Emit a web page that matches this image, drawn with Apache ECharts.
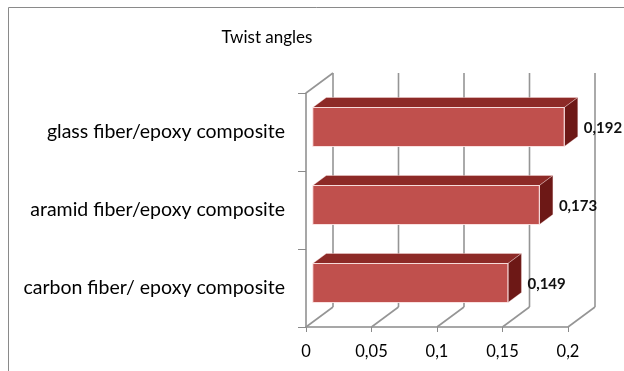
<!DOCTYPE html>
<html><head><meta charset="utf-8">
<script src="https://cdn.jsdelivr.net/npm/echarts@6/dist/echarts.min.js"></script>
<style>html,body{margin:0;padding:0;background:#fff}#c{width:624px;height:371px}</style>
</head><body><div id="c"></div>
<script>
var titleText = 'Twist angles';
var categories = ['carbon fiber/ epoxy composite', 'aramid fiber/epoxy composite', 'glass fiber/epoxy composite'];
var values = [0.149, 0.173, 0.192];
var tickValues = [0, 0.05, 0.1, 0.15, 0.2];
var tickLabels = ['0', '0,05', '0,1', '0,15', '0,2'];

var FONT = 'Lato, Carlito, Calibri, sans-serif';
var DX = 27, DY = -20; // depth offset
var GRID = '#959595';

var chart = echarts.init(document.getElementById('c'));
chart.setOption({
  animation: false,
  graphic: [{type:'rect', shape:{x:8.5,y:7.5,width:700,height:400}, style:{fill:'none', stroke:'#8a8a8a', lineWidth:1}, z:-10}],
  title: {text: titleText, left: 262, top: 24, textAlign:'center',
    textStyle:{fontFamily:FONT, fontSize:17, fontWeight:'normal', color:'#000'}},
  grid: {left:306, right:56, top:93, bottom:44},
  xAxis: {type:'value', min:0, max:0.2, interval:0.05,
    axisLine:{show:true, lineStyle:{color:'#8a8a8a', width:1.5}},
    axisTick:{show:true, length:5, lineStyle:{color:'#8a8a8a'}},
    splitLine:{show:false},
    axisLabel:{margin:16, fontFamily:FONT, fontSize:16.5, color:'#000',
      formatter:function(v){return tickLabels[Math.round(v/0.05)];}}},
  yAxis: {type:'category', data:categories,
    axisLine:{show:true, lineStyle:{color:'#8a8a8a', width:1.5}},
    axisTick:{show:true, length:8, lineStyle:{color:'#8a8a8a'}},
    axisLabel:{margin:21, fontFamily:FONT, fontSize:19.5, color:'#000'}},
  series: [
    {type:'custom', z:1, silent:true,
     data: tickValues.map(function(v){return [v, 0];}),
     encode:{x:0, y:1},
     renderItem:function(params, api){
       var cs = params.coordSys;
       var p = api.coord([api.value(0), 0]);
       var x = p[0], top = cs.y, bot = cs.y + cs.height;
       var ch = [
         {type:'line', shape:{x1:x+DX, y1:top+DY, x2:x+DX, y2:bot+DY}, style:{stroke:GRID, lineWidth:1.6}},
         {type:'line', shape:{x1:x, y1:bot, x2:x+DX, y2:bot+DY}, style:{stroke:GRID, lineWidth:1.6}}
       ];
       if (params.dataIndex === 0) {
         ch.push({type:'line', shape:{x1:x, y1:top, x2:x+DX, y2:top+DY}, style:{stroke:GRID, lineWidth:1.6}});
       }
       return {type:'group', children:ch};
     }},
    {type:'custom', z:2, silent:true,
     data: values.map(function(v,i){return [v, i];}),
     encode:{x:0, y:1},
     renderItem:function(params, api){
       var v = api.value(0), c = api.value(1);
       var p0 = api.coord([0, c]), p1 = api.coord([v, c]);
       var band = api.size([0, 1])[1];
       var h = band * 0.5;
       var fx = DX*0.25, fy = DY*0.25, bx = DX*0.5, by = DY*0.5;
       var x0 = p0[0] + fx, x1 = p1[0] + fx;
       var yt = p0[1] + fy - h/2, yb = p0[1] + fy + h/2;
       var lbl = String(v).replace('.', ',');
       return {type:'group', children:[
         {type:'polygon', shape:{points:[[x0,yt],[x1,yt],[x1+bx,yt+by],[x0+bx,yt+by]]},
          style:{fill:'#8d2a27', stroke:'rgba(255,230,230,0.5)', lineWidth:0.8}},
         {type:'polygon', shape:{points:[[x1,yt],[x1+bx,yt+by],[x1+bx,yb+by],[x1,yb]]},
          style:{fill:'#6d1816', stroke:'rgba(255,230,230,0.4)', lineWidth:0.8}},
         {type:'rect', shape:{x:x0, y:yt, width:x1-x0, height:h},
          style:{fill:'#c0504d', stroke:'rgba(255,235,235,0.85)', lineWidth:1.2}},
         {type:'text', x:x1+bx+6, y:p0[1]+fy+1,
          style:{text:lbl, fontFamily:FONT, fontSize:15, fontWeight:'bold', fill:'#111',
                 align:'left', verticalAlign:'middle'}}
       ]};
     }}
  ]
});
</script></body></html>
